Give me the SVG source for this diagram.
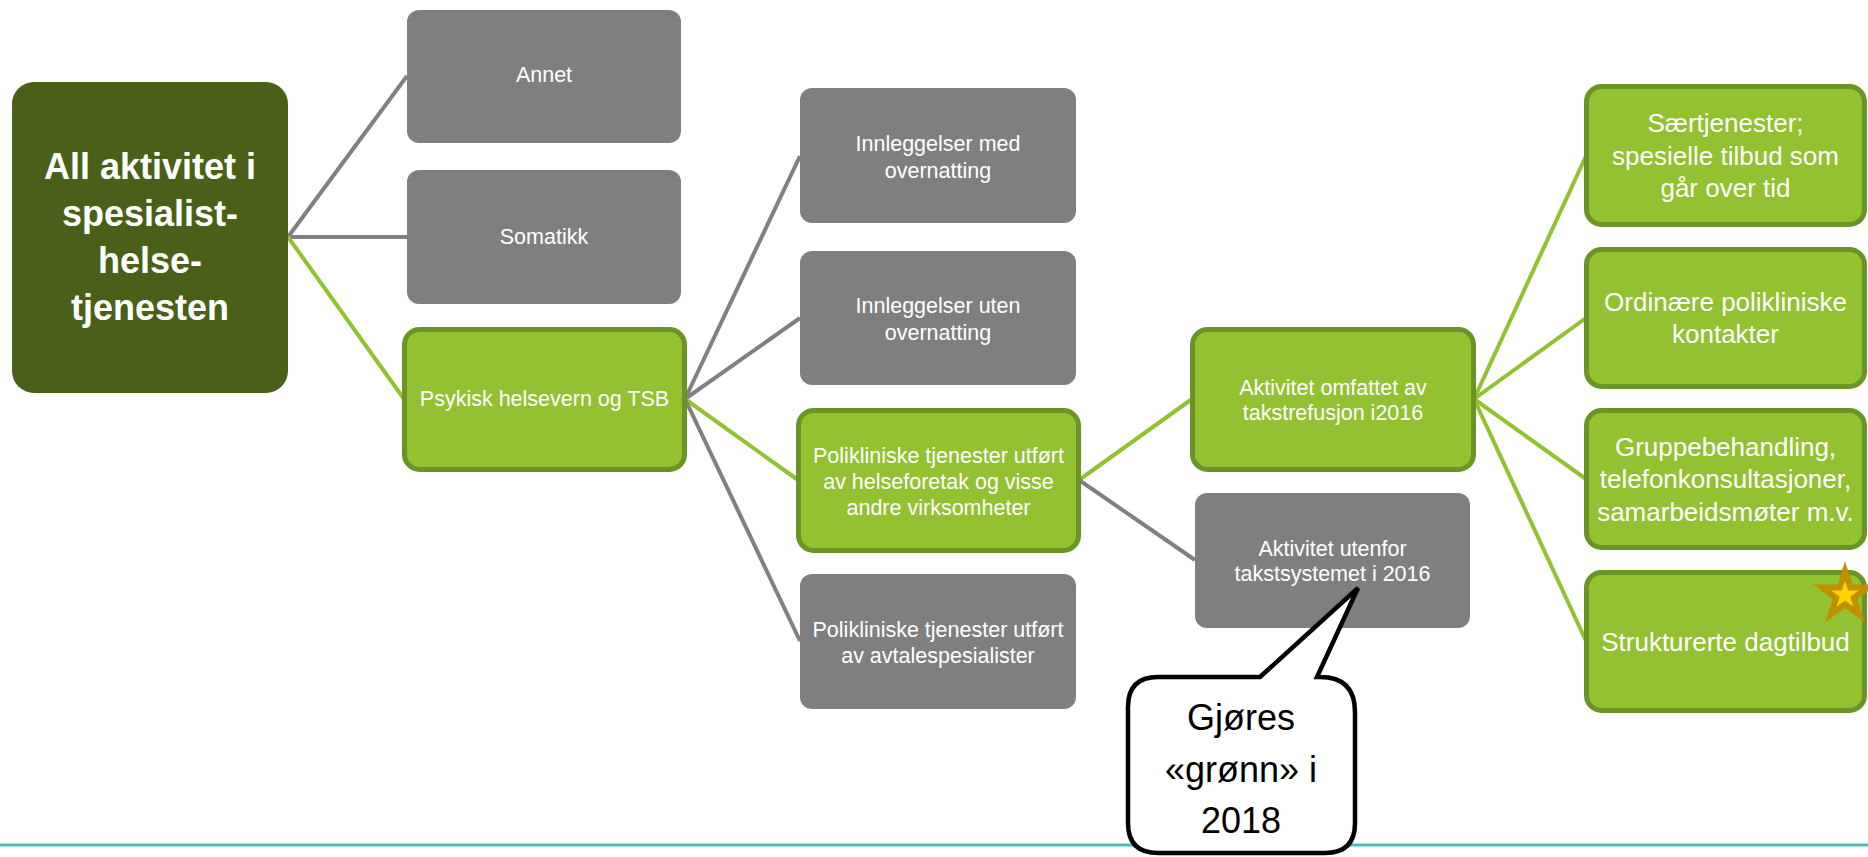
<svg xmlns="http://www.w3.org/2000/svg" width="1868" height="857" viewBox="0 0 1868 857">
<style>
.gray{fill:#7F7F7F}
.green{fill:#92C132;stroke:#6A9426;stroke-width:5}
.root{fill:#4A6019}
.t{font-family:"Liberation Sans",Arial,sans-serif;fill:#fff;text-anchor:middle;font-size:21.5px}
.tl{font-family:"Liberation Sans",Arial,sans-serif;fill:#fff;text-anchor:middle;font-size:26px}
.tr{font-family:"Liberation Sans",Arial,sans-serif;fill:#fff;text-anchor:middle;font-size:36px;font-weight:bold}
.tc{font-family:"Liberation Sans",Arial,sans-serif;fill:#000;text-anchor:middle;font-size:36px}
.cg{stroke:#808080;stroke-width:4;fill:none}
.cgr{stroke:#92C132;stroke-width:4;fill:none}
</style>
<line x1="0" y1="845" x2="1868" y2="845" stroke="#4CBFB8" stroke-width="3"/>
<g id="connectors">
<line class="cg" x1="288" y1="237" x2="407" y2="76"/>
<line class="cg" x1="288" y1="237" x2="407" y2="237"/>
<line class="cgr" x1="288" y1="237" x2="404" y2="399"/>
<line class="cg" x1="685" y1="399" x2="800" y2="156"/>
<line class="cg" x1="685" y1="399" x2="800" y2="318"/>
<line class="cgr" x1="685" y1="399" x2="798" y2="480"/>
<line class="cg" x1="685" y1="399" x2="800" y2="641"/>
<line class="cgr" x1="1079" y1="480" x2="1192" y2="399"/>
<line class="cg" x1="1079" y1="480" x2="1195" y2="560"/>
<line class="cgr" x1="1474" y1="399" x2="1586" y2="156"/>
<line class="cgr" x1="1474" y1="399" x2="1586" y2="318"/>
<line class="cgr" x1="1474" y1="399" x2="1586" y2="479"/>
<line class="cgr" x1="1474" y1="399" x2="1586" y2="641"/>
</g>
<g id="root">
<rect class="root" x="12" y="82" width="276" height="311" rx="22"/>
<text class="tr" x="150" y="179">All aktivitet i</text>
<text class="tr" x="150" y="226">spesialist-</text>
<text class="tr" x="150" y="273">helse-</text>
<text class="tr" x="150" y="320">tjenesten</text>
</g>
<g id="annet">
<rect class="gray" x="407" y="10" width="274" height="133" rx="12"/>
<text class="t" x="544" y="82">Annet</text>
</g>
<g id="somatikk">
<rect class="gray" x="407" y="170" width="274" height="134" rx="12"/>
<text class="t" x="544" y="244">Somatikk</text>
</g>
<g id="psykisk">
<rect class="green" x="404.5" y="329.5" width="280" height="140" rx="15"/>
<text class="t" x="544.5" y="406">Psykisk helsevern og TSB</text>
</g>
<g id="innl-med">
<rect class="gray" x="800" y="88" width="276" height="135" rx="12"/>
<text class="t" x="938" y="151">Innleggelser med</text>
<text class="t" x="938" y="178">overnatting</text>
</g>
<g id="innl-uten">
<rect class="gray" x="800" y="251" width="276" height="134" rx="12"/>
<text class="t" x="938" y="313">Innleggelser uten</text>
<text class="t" x="938" y="340">overnatting</text>
</g>
<g id="poli-hf">
<rect class="green" x="798.5" y="410.5" width="280" height="140" rx="15"/>
<text class="t" x="938.5" y="463">Polikliniske tjenester utført</text>
<text class="t" x="938.5" y="489">av helseforetak og visse</text>
<text class="t" x="938.5" y="515">andre virksomheter</text>
</g>
<g id="poli-avtale">
<rect class="gray" x="800" y="574" width="276" height="135" rx="12"/>
<text class="t" x="938" y="637">Polikliniske tjenester utført</text>
<text class="t" x="938" y="663">av avtalespesialister</text>
</g>
<g id="omfattet">
<rect class="green" x="1192.5" y="329.5" width="281" height="140" rx="15"/>
<text class="t" x="1333" y="395">Aktivitet omfattet av</text>
<text class="t" x="1333" y="420">takstrefusjon i2016</text>
</g>
<g id="utenfor">
<rect class="gray" x="1195" y="493" width="275" height="135" rx="12"/>
<text class="t" x="1332.5" y="556">Aktivitet utenfor</text>
<text class="t" x="1332.5" y="581">takstsystemet i 2016</text>
</g>
<g id="saertjenester">
<rect class="green" x="1586.5" y="86.5" width="278" height="138" rx="15"/>
<text class="tl" x="1725.5" y="132">Særtjenester;</text>
<text class="tl" x="1725.5" y="165">spesielle tilbud som</text>
<text class="tl" x="1725.5" y="197">går over tid</text>
</g>
<g id="ordinaere">
<rect class="green" x="1586.5" y="249.5" width="278" height="137" rx="15"/>
<text class="tl" x="1725.5" y="311">Ordinære polikliniske</text>
<text class="tl" x="1725.5" y="343">kontakter</text>
</g>
<g id="gruppe">
<rect class="green" x="1586.5" y="410.5" width="278" height="137" rx="15"/>
<text class="tl" x="1725.5" y="456">Gruppebehandling,</text>
<text class="tl" x="1725.5" y="488">telefonkonsultasjoner,</text>
<text class="tl" x="1725.5" y="521">samarbeidsmøter m.v.</text>
</g>
<g id="strukturerte">
<rect class="green" x="1586.5" y="572.5" width="278" height="138" rx="15"/>
<text class="tl" x="1725.5" y="651">Strukturerte dagtilbud</text>
<polygon points="1845,571 1850.41,587.56 1867.82,587.58 1853.75,597.84 1859.11,614.42 1845,604.2 1830.89,614.42 1836.25,597.84 1822.18,587.58 1839.59,587.56" fill="#FFD200" stroke="#BF9000" stroke-width="6"/>
</g>
<g id="callout">
<path d="M1158,677 L1260,677 L1358,588 L1317,677 L1320,677 Q1355,677 1355,712 L1355,823 Q1355,853 1325,853 L1158,853 Q1128,853 1128,823 L1128,707 Q1128,677 1158,677 Z" fill="#fff" stroke="#000" stroke-width="4.5" stroke-linejoin="miter"/>
<text class="tc" x="1241" y="730">Gjøres</text>
<text class="tc" x="1241" y="782">«grønn» i</text>
<text class="tc" x="1241" y="833">2018</text>
</g>
</svg>
